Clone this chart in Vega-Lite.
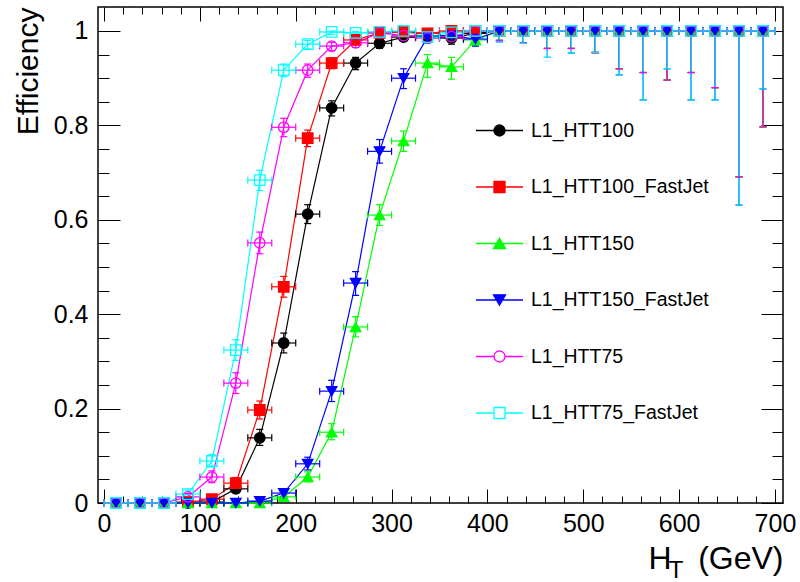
{
"$schema": "https://vega.github.io/schema/vega-lite/v6.json",
"width": 685, "height": 496,
"autosize": {"type": "none"},
"padding": {"left": 98, "top": 7, "right": 17, "bottom": 79},
"background": "white",
"config": {
 "view": {"stroke": "#000000", "strokeWidth": 1.5},
 "axis": {"grid": false, "domain": false, "tickColor": "#000000", "tickWidth": 1, "labelFont": "Liberation Sans", "labelFontSize": 25, "labelColor": "#000000", "titleFont": "Liberation Sans", "titleColor": "#000000", "titleFontWeight": "normal", "labelFlush": false, "labelOverlap": false, "labelBound": false}
},
"data": {"values": [
{"s":"L1_HTT100","x":12.5,"x0":0,"x1":25,"y":0,"lo":0,"hi":0.003},
{"s":"L1_HTT100","x":37.5,"x0":25,"x1":50,"y":0,"lo":0,"hi":0.003},
{"s":"L1_HTT100","x":62.5,"x0":50,"x1":75,"y":0,"lo":0,"hi":0.003},
{"s":"L1_HTT100","x":87.5,"x0":75,"x1":100,"y":0,"lo":0,"hi":0.003},
{"s":"L1_HTT100","x":112.5,"x0":100,"x1":125,"y":0.002,"lo":0,"hi":0.006},
{"s":"L1_HTT100","x":137.5,"x0":125,"x1":150,"y":0.03,"lo":0.022,"hi":0.04},
{"s":"L1_HTT100","x":162.5,"x0":150,"x1":175,"y":0.138,"lo":0.122,"hi":0.156},
{"s":"L1_HTT100","x":187.5,"x0":175,"x1":200,"y":0.339,"lo":0.318,"hi":0.36},
{"s":"L1_HTT100","x":212.5,"x0":200,"x1":225,"y":0.612,"lo":0.592,"hi":0.632},
{"s":"L1_HTT100","x":237.5,"x0":225,"x1":250,"y":0.837,"lo":0.82,"hi":0.852},
{"s":"L1_HTT100","x":262.5,"x0":250,"x1":275,"y":0.932,"lo":0.918,"hi":0.944},
{"s":"L1_HTT100","x":287.5,"x0":275,"x1":300,"y":0.974,"lo":0.963,"hi":0.982},
{"s":"L1_HTT100","x":312.5,"x0":300,"x1":325,"y":0.987,"lo":0.978,"hi":0.993},
{"s":"L1_HTT100","x":337.5,"x0":325,"x1":350,"y":0.989,"lo":0.98,"hi":0.995},
{"s":"L1_HTT100","x":362.5,"x0":350,"x1":375,"y":0.985,"lo":0.972,"hi":0.993},
{"s":"L1_HTT100","x":387.5,"x0":375,"x1":400,"y":0.995,"lo":0.985,"hi":0.999},
{"s":"L1_HTT100","x":412.5,"x0":400,"x1":425,"y":1,"lo":0.98,"hi":1},
{"s":"L1_HTT100","x":437.5,"x0":425,"x1":450,"y":1,"lo":0.975,"hi":1},
{"s":"L1_HTT100","x":462.5,"x0":450,"x1":475,"y":1,"lo":0.963,"hi":1},
{"s":"L1_HTT100","x":487.5,"x0":475,"x1":500,"y":1,"lo":0.963,"hi":1},
{"s":"L1_HTT100","x":512.5,"x0":500,"x1":525,"y":1,"lo":0.954,"hi":1},
{"s":"L1_HTT100","x":537.5,"x0":525,"x1":550,"y":1,"lo":0.92,"hi":1},
{"s":"L1_HTT100","x":562.5,"x0":550,"x1":575,"y":1,"lo":0.912,"hi":1},
{"s":"L1_HTT100","x":587.5,"x0":575,"x1":600,"y":1,"lo":0.896,"hi":1},
{"s":"L1_HTT100","x":612.5,"x0":600,"x1":625,"y":1,"lo":0.912,"hi":1},
{"s":"L1_HTT100","x":637.5,"x0":625,"x1":650,"y":1,"lo":0.88,"hi":1},
{"s":"L1_HTT100","x":662.5,"x0":650,"x1":675,"y":1,"lo":0.691,"hi":1},
{"s":"L1_HTT100","x":687.5,"x0":675,"x1":700,"y":1,"lo":0.797,"hi":1},
{"s":"L1_HTT100_FastJet","x":12.5,"x0":0,"x1":25,"y":0,"lo":0,"hi":0.003},
{"s":"L1_HTT100_FastJet","x":37.5,"x0":25,"x1":50,"y":0,"lo":0,"hi":0.003},
{"s":"L1_HTT100_FastJet","x":62.5,"x0":50,"x1":75,"y":0,"lo":0,"hi":0.003},
{"s":"L1_HTT100_FastJet","x":87.5,"x0":75,"x1":100,"y":0.002,"lo":0,"hi":0.006},
{"s":"L1_HTT100_FastJet","x":112.5,"x0":100,"x1":125,"y":0.008,"lo":0.004,"hi":0.014},
{"s":"L1_HTT100_FastJet","x":137.5,"x0":125,"x1":150,"y":0.042,"lo":0.032,"hi":0.054},
{"s":"L1_HTT100_FastJet","x":162.5,"x0":150,"x1":175,"y":0.197,"lo":0.178,"hi":0.216},
{"s":"L1_HTT100_FastJet","x":187.5,"x0":175,"x1":200,"y":0.458,"lo":0.436,"hi":0.48},
{"s":"L1_HTT100_FastJet","x":212.5,"x0":200,"x1":225,"y":0.773,"lo":0.755,"hi":0.79},
{"s":"L1_HTT100_FastJet","x":237.5,"x0":225,"x1":250,"y":0.932,"lo":0.92,"hi":0.943},
{"s":"L1_HTT100_FastJet","x":262.5,"x0":250,"x1":275,"y":0.981,"lo":0.973,"hi":0.987},
{"s":"L1_HTT100_FastJet","x":287.5,"x0":275,"x1":300,"y":0.996,"lo":0.99,"hi":0.999},
{"s":"L1_HTT100_FastJet","x":312.5,"x0":300,"x1":325,"y":0.998,"lo":0.993,"hi":1},
{"s":"L1_HTT100_FastJet","x":337.5,"x0":325,"x1":350,"y":0.995,"lo":0.988,"hi":0.999},
{"s":"L1_HTT100_FastJet","x":362.5,"x0":350,"x1":375,"y":1,"lo":0.992,"hi":1},
{"s":"L1_HTT100_FastJet","x":387.5,"x0":375,"x1":400,"y":1,"lo":0.99,"hi":1},
{"s":"L1_HTT100_FastJet","x":412.5,"x0":400,"x1":425,"y":1,"lo":0.98,"hi":1},
{"s":"L1_HTT100_FastJet","x":437.5,"x0":425,"x1":450,"y":1,"lo":0.975,"hi":1},
{"s":"L1_HTT100_FastJet","x":462.5,"x0":450,"x1":475,"y":1,"lo":0.963,"hi":1},
{"s":"L1_HTT100_FastJet","x":487.5,"x0":475,"x1":500,"y":1,"lo":0.963,"hi":1},
{"s":"L1_HTT100_FastJet","x":512.5,"x0":500,"x1":525,"y":1,"lo":0.954,"hi":1},
{"s":"L1_HTT100_FastJet","x":537.5,"x0":525,"x1":550,"y":1,"lo":0.92,"hi":1},
{"s":"L1_HTT100_FastJet","x":562.5,"x0":550,"x1":575,"y":1,"lo":0.912,"hi":1},
{"s":"L1_HTT100_FastJet","x":587.5,"x0":575,"x1":600,"y":1,"lo":0.896,"hi":1},
{"s":"L1_HTT100_FastJet","x":612.5,"x0":600,"x1":625,"y":1,"lo":0.912,"hi":1},
{"s":"L1_HTT100_FastJet","x":637.5,"x0":625,"x1":650,"y":1,"lo":0.88,"hi":1},
{"s":"L1_HTT100_FastJet","x":662.5,"x0":650,"x1":675,"y":1,"lo":0.691,"hi":1},
{"s":"L1_HTT100_FastJet","x":687.5,"x0":675,"x1":700,"y":1,"lo":0.797,"hi":1},
{"s":"L1_HTT150","x":12.5,"x0":0,"x1":25,"y":0,"lo":0,"hi":0.003},
{"s":"L1_HTT150","x":37.5,"x0":25,"x1":50,"y":0,"lo":0,"hi":0.003},
{"s":"L1_HTT150","x":62.5,"x0":50,"x1":75,"y":0,"lo":0,"hi":0.003},
{"s":"L1_HTT150","x":87.5,"x0":75,"x1":100,"y":0,"lo":0,"hi":0.003},
{"s":"L1_HTT150","x":112.5,"x0":100,"x1":125,"y":0,"lo":0,"hi":0.003},
{"s":"L1_HTT150","x":137.5,"x0":125,"x1":150,"y":0,"lo":0,"hi":0.003},
{"s":"L1_HTT150","x":162.5,"x0":150,"x1":175,"y":0,"lo":0,"hi":0.003},
{"s":"L1_HTT150","x":187.5,"x0":175,"x1":200,"y":0.013,"lo":0.008,"hi":0.02},
{"s":"L1_HTT150","x":212.5,"x0":200,"x1":225,"y":0.055,"lo":0.045,"hi":0.066},
{"s":"L1_HTT150","x":237.5,"x0":225,"x1":250,"y":0.15,"lo":0.134,"hi":0.168},
{"s":"L1_HTT150","x":262.5,"x0":250,"x1":275,"y":0.373,"lo":0.352,"hi":0.395},
{"s":"L1_HTT150","x":287.5,"x0":275,"x1":300,"y":0.61,"lo":0.588,"hi":0.632},
{"s":"L1_HTT150","x":312.5,"x0":300,"x1":325,"y":0.767,"lo":0.745,"hi":0.788},
{"s":"L1_HTT150","x":337.5,"x0":325,"x1":350,"y":0.932,"lo":0.902,"hi":0.95},
{"s":"L1_HTT150","x":362.5,"x0":350,"x1":375,"y":0.924,"lo":0.898,"hi":0.944},
{"s":"L1_HTT150","x":387.5,"x0":375,"x1":400,"y":0.981,"lo":0.968,"hi":0.99},
{"s":"L1_HTT150","x":412.5,"x0":400,"x1":425,"y":1,"lo":0.98,"hi":1},
{"s":"L1_HTT150","x":437.5,"x0":425,"x1":450,"y":1,"lo":0.975,"hi":1},
{"s":"L1_HTT150","x":462.5,"x0":450,"x1":475,"y":1,"lo":0.963,"hi":1},
{"s":"L1_HTT150","x":487.5,"x0":475,"x1":500,"y":1,"lo":0.963,"hi":1},
{"s":"L1_HTT150","x":512.5,"x0":500,"x1":525,"y":1,"lo":0.954,"hi":1},
{"s":"L1_HTT150","x":537.5,"x0":525,"x1":550,"y":1,"lo":0.92,"hi":1},
{"s":"L1_HTT150","x":562.5,"x0":550,"x1":575,"y":1,"lo":0.912,"hi":1},
{"s":"L1_HTT150","x":587.5,"x0":575,"x1":600,"y":1,"lo":0.896,"hi":1},
{"s":"L1_HTT150","x":612.5,"x0":600,"x1":625,"y":1,"lo":0.912,"hi":1},
{"s":"L1_HTT150","x":637.5,"x0":625,"x1":650,"y":1,"lo":0.88,"hi":1},
{"s":"L1_HTT150","x":662.5,"x0":650,"x1":675,"y":1,"lo":0.691,"hi":1},
{"s":"L1_HTT150","x":687.5,"x0":675,"x1":700,"y":1,"lo":0.797,"hi":1},
{"s":"L1_HTT150_FastJet","x":12.5,"x0":0,"x1":25,"y":0,"lo":0,"hi":0.003},
{"s":"L1_HTT150_FastJet","x":37.5,"x0":25,"x1":50,"y":0,"lo":0,"hi":0.003},
{"s":"L1_HTT150_FastJet","x":62.5,"x0":50,"x1":75,"y":0,"lo":0,"hi":0.003},
{"s":"L1_HTT150_FastJet","x":87.5,"x0":75,"x1":100,"y":0,"lo":0,"hi":0.003},
{"s":"L1_HTT150_FastJet","x":112.5,"x0":100,"x1":125,"y":0,"lo":0,"hi":0.003},
{"s":"L1_HTT150_FastJet","x":137.5,"x0":125,"x1":150,"y":0,"lo":0,"hi":0.003},
{"s":"L1_HTT150_FastJet","x":162.5,"x0":150,"x1":175,"y":0.004,"lo":0.001,"hi":0.009},
{"s":"L1_HTT150_FastJet","x":187.5,"x0":175,"x1":200,"y":0.021,"lo":0.014,"hi":0.03},
{"s":"L1_HTT150_FastJet","x":212.5,"x0":200,"x1":225,"y":0.083,"lo":0.07,"hi":0.097},
{"s":"L1_HTT150_FastJet","x":237.5,"x0":225,"x1":250,"y":0.237,"lo":0.215,"hi":0.26},
{"s":"L1_HTT150_FastJet","x":262.5,"x0":250,"x1":275,"y":0.466,"lo":0.44,"hi":0.49},
{"s":"L1_HTT150_FastJet","x":287.5,"x0":275,"x1":300,"y":0.745,"lo":0.72,"hi":0.77},
{"s":"L1_HTT150_FastJet","x":312.5,"x0":300,"x1":325,"y":0.9,"lo":0.878,"hi":0.92},
{"s":"L1_HTT150_FastJet","x":337.5,"x0":325,"x1":350,"y":0.987,"lo":0.975,"hi":0.995},
{"s":"L1_HTT150_FastJet","x":362.5,"x0":350,"x1":375,"y":0.99,"lo":0.98,"hi":0.996},
{"s":"L1_HTT150_FastJet","x":387.5,"x0":375,"x1":400,"y":0.983,"lo":0.968,"hi":0.993},
{"s":"L1_HTT150_FastJet","x":412.5,"x0":400,"x1":425,"y":1,"lo":0.977,"hi":1},
{"s":"L1_HTT150_FastJet","x":437.5,"x0":425,"x1":450,"y":1,"lo":0.975,"hi":1},
{"s":"L1_HTT150_FastJet","x":462.5,"x0":450,"x1":475,"y":1,"lo":0.944,"hi":1},
{"s":"L1_HTT150_FastJet","x":487.5,"x0":475,"x1":500,"y":1,"lo":0.953,"hi":1},
{"s":"L1_HTT150_FastJet","x":512.5,"x0":500,"x1":525,"y":1,"lo":0.955,"hi":1},
{"s":"L1_HTT150_FastJet","x":537.5,"x0":525,"x1":550,"y":1,"lo":0.907,"hi":1},
{"s":"L1_HTT150_FastJet","x":562.5,"x0":550,"x1":575,"y":1,"lo":0.854,"hi":1},
{"s":"L1_HTT150_FastJet","x":587.5,"x0":575,"x1":600,"y":1,"lo":0.92,"hi":1},
{"s":"L1_HTT150_FastJet","x":612.5,"x0":600,"x1":625,"y":1,"lo":0.854,"hi":1},
{"s":"L1_HTT150_FastJet","x":637.5,"x0":625,"x1":650,"y":1,"lo":0.854,"hi":1},
{"s":"L1_HTT150_FastJet","x":662.5,"x0":650,"x1":675,"y":1,"lo":0.631,"hi":1},
{"s":"L1_HTT150_FastJet","x":687.5,"x0":675,"x1":700,"y":1,"lo":0.877,"hi":1},
{"s":"L1_HTT75","x":12.5,"x0":0,"x1":25,"y":0,"lo":0,"hi":0.003},
{"s":"L1_HTT75","x":37.5,"x0":25,"x1":50,"y":0,"lo":0,"hi":0.003},
{"s":"L1_HTT75","x":62.5,"x0":50,"x1":75,"y":0,"lo":0,"hi":0.003},
{"s":"L1_HTT75","x":87.5,"x0":75,"x1":100,"y":0.013,"lo":0.007,"hi":0.02},
{"s":"L1_HTT75","x":112.5,"x0":100,"x1":125,"y":0.055,"lo":0.043,"hi":0.068},
{"s":"L1_HTT75","x":137.5,"x0":125,"x1":150,"y":0.254,"lo":0.232,"hi":0.276},
{"s":"L1_HTT75","x":162.5,"x0":150,"x1":175,"y":0.551,"lo":0.528,"hi":0.574},
{"s":"L1_HTT75","x":187.5,"x0":175,"x1":200,"y":0.796,"lo":0.776,"hi":0.815},
{"s":"L1_HTT75","x":212.5,"x0":200,"x1":225,"y":0.917,"lo":0.902,"hi":0.93},
{"s":"L1_HTT75","x":237.5,"x0":225,"x1":250,"y":0.968,"lo":0.958,"hi":0.976},
{"s":"L1_HTT75","x":262.5,"x0":250,"x1":275,"y":0.975,"lo":0.965,"hi":0.983},
{"s":"L1_HTT75","x":287.5,"x0":275,"x1":300,"y":0.996,"lo":0.99,"hi":0.999},
{"s":"L1_HTT75","x":312.5,"x0":300,"x1":325,"y":0.99,"lo":0.982,"hi":0.995},
{"s":"L1_HTT75","x":337.5,"x0":325,"x1":350,"y":0.985,"lo":0.975,"hi":0.992},
{"s":"L1_HTT75","x":362.5,"x0":350,"x1":375,"y":0.988,"lo":0.978,"hi":0.994},
{"s":"L1_HTT75","x":387.5,"x0":375,"x1":400,"y":1,"lo":0.99,"hi":1},
{"s":"L1_HTT75","x":412.5,"x0":400,"x1":425,"y":1,"lo":0.98,"hi":1},
{"s":"L1_HTT75","x":437.5,"x0":425,"x1":450,"y":1,"lo":0.975,"hi":1},
{"s":"L1_HTT75","x":462.5,"x0":450,"x1":475,"y":1,"lo":0.963,"hi":1},
{"s":"L1_HTT75","x":487.5,"x0":475,"x1":500,"y":1,"lo":0.963,"hi":1},
{"s":"L1_HTT75","x":512.5,"x0":500,"x1":525,"y":1,"lo":0.954,"hi":1},
{"s":"L1_HTT75","x":537.5,"x0":525,"x1":550,"y":1,"lo":0.92,"hi":1},
{"s":"L1_HTT75","x":562.5,"x0":550,"x1":575,"y":1,"lo":0.912,"hi":1},
{"s":"L1_HTT75","x":587.5,"x0":575,"x1":600,"y":1,"lo":0.896,"hi":1},
{"s":"L1_HTT75","x":612.5,"x0":600,"x1":625,"y":1,"lo":0.912,"hi":1},
{"s":"L1_HTT75","x":637.5,"x0":625,"x1":650,"y":1,"lo":0.88,"hi":1},
{"s":"L1_HTT75","x":662.5,"x0":650,"x1":675,"y":1,"lo":0.691,"hi":1},
{"s":"L1_HTT75","x":687.5,"x0":675,"x1":700,"y":1,"lo":0.797,"hi":1},
{"s":"L1_HTT75_FastJet","x":12.5,"x0":0,"x1":25,"y":0,"lo":0,"hi":0.003},
{"s":"L1_HTT75_FastJet","x":37.5,"x0":25,"x1":50,"y":0,"lo":0,"hi":0.003},
{"s":"L1_HTT75_FastJet","x":62.5,"x0":50,"x1":75,"y":0,"lo":0,"hi":0.003},
{"s":"L1_HTT75_FastJet","x":87.5,"x0":75,"x1":100,"y":0.019,"lo":0.012,"hi":0.027},
{"s":"L1_HTT75_FastJet","x":112.5,"x0":100,"x1":125,"y":0.089,"lo":0.076,"hi":0.103},
{"s":"L1_HTT75_FastJet","x":137.5,"x0":125,"x1":150,"y":0.324,"lo":0.302,"hi":0.346},
{"s":"L1_HTT75_FastJet","x":162.5,"x0":150,"x1":175,"y":0.684,"lo":0.662,"hi":0.705},
{"s":"L1_HTT75_FastJet","x":187.5,"x0":175,"x1":200,"y":0.917,"lo":0.903,"hi":0.93},
{"s":"L1_HTT75_FastJet","x":212.5,"x0":200,"x1":225,"y":0.972,"lo":0.962,"hi":0.98},
{"s":"L1_HTT75_FastJet","x":237.5,"x0":225,"x1":250,"y":0.998,"lo":0.993,"hi":1},
{"s":"L1_HTT75_FastJet","x":262.5,"x0":250,"x1":275,"y":0.996,"lo":0.99,"hi":0.999},
{"s":"L1_HTT75_FastJet","x":287.5,"x0":275,"x1":300,"y":0.998,"lo":0.993,"hi":1},
{"s":"L1_HTT75_FastJet","x":312.5,"x0":300,"x1":325,"y":1,"lo":0.994,"hi":1},
{"s":"L1_HTT75_FastJet","x":337.5,"x0":325,"x1":350,"y":0.987,"lo":0.978,"hi":0.993},
{"s":"L1_HTT75_FastJet","x":362.5,"x0":350,"x1":375,"y":0.997,"lo":0.99,"hi":1},
{"s":"L1_HTT75_FastJet","x":387.5,"x0":375,"x1":400,"y":1,"lo":0.99,"hi":1},
{"s":"L1_HTT75_FastJet","x":412.5,"x0":400,"x1":425,"y":1,"lo":0.977,"hi":1},
{"s":"L1_HTT75_FastJet","x":437.5,"x0":425,"x1":450,"y":1,"lo":0.974,"hi":1},
{"s":"L1_HTT75_FastJet","x":462.5,"x0":450,"x1":475,"y":1,"lo":0.944,"hi":1},
{"s":"L1_HTT75_FastJet","x":487.5,"x0":475,"x1":500,"y":1,"lo":0.953,"hi":1},
{"s":"L1_HTT75_FastJet","x":512.5,"x0":500,"x1":525,"y":1,"lo":0.955,"hi":1},
{"s":"L1_HTT75_FastJet","x":537.5,"x0":525,"x1":550,"y":1,"lo":0.907,"hi":1},
{"s":"L1_HTT75_FastJet","x":562.5,"x0":550,"x1":575,"y":1,"lo":0.854,"hi":1},
{"s":"L1_HTT75_FastJet","x":587.5,"x0":575,"x1":600,"y":1,"lo":0.92,"hi":1},
{"s":"L1_HTT75_FastJet","x":612.5,"x0":600,"x1":625,"y":1,"lo":0.854,"hi":1},
{"s":"L1_HTT75_FastJet","x":637.5,"x0":625,"x1":650,"y":1,"lo":0.854,"hi":1},
{"s":"L1_HTT75_FastJet","x":662.5,"x0":650,"x1":675,"y":1,"lo":0.631,"hi":1},
{"s":"L1_HTT75_FastJet","x":687.5,"x0":675,"x1":700,"y":1,"lo":0.877,"hi":1}
]},
"layer": [
 {
  "mark": {"type": "line", "strokeWidth": 1.2},
  "encoding": {
   "x": {"field": "x", "type": "quantitative", "scale": {"domain": [-6.3, 708.4], "nice": false, "zero": false},
     "axis": {"orient": "bottom", "values": [0,100,200,300,400,500,600,700], "format": "d", "tickSize": -14, "labelPadding": 22,
       "title": "H\u00a0\u00a0\u00a0(GeV)", "titleFontSize": 32, "titleX": 685, "titleY": 65, "titleAlign": "right", "titleBaseline": "alphabetic"}},
   "y": {"field": "y", "type": "quantitative", "scale": {"domain": [0, 1.0508], "nice": false, "zero": false},
     "axis": {"orient": "left", "values": [0,0.2,0.4,0.6,0.8,1], "format": "~g", "tickSize": -22, "labelPadding": 32,
       "title": "Efficiency", "titleFontSize": 30, "titleX": -61, "titleY": 0, "titleAngle": -90, "titleAlign": "right", "titleBaseline": "alphabetic"}},
   "stroke": {"field": "s", "type": "nominal",
     "scale": {"domain": ["L1_HTT100","L1_HTT100_FastJet","L1_HTT150","L1_HTT150_FastJet","L1_HTT75","L1_HTT75_FastJet"],
               "range": ["#000000","#ff0000","#00ff00","#0000ff","#ff00ff","#00ffff"]},
     "legend": {"orient": "none", "legendX": 377, "legendY": 99, "title": null, "padding": 0,
       "symbolSize": 2209, "rowPadding": 22.5, "labelOffset": 7,
       "labelFont": "Liberation Sans", "labelFontSize": 19.5, "labelColor": "#000000", "labelLimit": 400,
       "encode": {"symbols": {"update": {
         "shape": {"signal": "{'L1_HTT100':'M-1,0H1M-0.234,0A0.234,0.234,0,1,0,0.234,0A0.234,0.234,0,1,0,-0.234,0Z','L1_HTT100_FastJet':'M-1,0H1M-0.234,-0.234H0.234V0.234H-0.234Z','L1_HTT150':'M-1,0H1M0,-0.22L0.255,0.22L-0.255,0.22Z','L1_HTT150_FastJet':'M-1,0H1M0,0.22L0.255,-0.22L-0.255,-0.22Z','L1_HTT75':'M-1,0H-0.234M0.234,0H1M-0.234,0A0.234,0.234,0,1,0,0.234,0A0.234,0.234,0,1,0,-0.234,0Z','L1_HTT75_FastJet':'M-1,0H-0.234M0.234,0H1M-0.234,-0.234H0.234V0.234H-0.234Z'}[datum.value]"},
         "fill": {"signal": "{'L1_HTT100':'#000000','L1_HTT100_FastJet':'#ff0000','L1_HTT150':'#00ff00','L1_HTT150_FastJet':'#0000ff','L1_HTT75':'transparent','L1_HTT75_FastJet':'transparent'}[datum.value]"},
         "strokeWidth": {"value": 1.3},
         "opacity": {"value": 1}
       }}}}
   }
  }
 },
 {
  "mark": {"type": "rule", "strokeWidth": 1.2},
  "encoding": {
   "x": {"field": "x0", "type": "quantitative",
     "axis": {"orient": "bottom", "values": [20,40,60,80,120,140,160,180,220,240,260,280,320,340,360,380,420,440,460,480,520,540,560,580,620,640,660,680], "tickSize": -7, "labels": false,
       "title": "T", "titleFontSize": 24, "titleX": 585, "titleY": 74, "titleAlign": "right", "titleBaseline": "alphabetic"}},
   "x2": {"field": "x1"},
   "y": {"field": "y", "type": "quantitative",
     "axis": {"orient": "left", "values": [0.05,0.1,0.15,0.25,0.3,0.35,0.45,0.5,0.55,0.65,0.7,0.75,0.85,0.9,0.95], "tickSize": -11, "labels": false, "title": null}},
   "stroke": {"field": "s", "type": "nominal"}
  }
 },
 {
  "mark": {"type": "rule", "strokeWidth": 1.2},
  "encoding": {
   "x": {"field": "x", "type": "quantitative",
     "axis": {"orient": "top", "values": [0,100,200,300,400,500,600,700], "tickSize": -14, "labels": false, "title": null}},
   "y": {"field": "lo", "type": "quantitative",
     "axis": {"orient": "right", "values": [0,0.2,0.4,0.6,0.8,1], "tickSize": -22, "labels": false, "title": null}},
   "y2": {"field": "hi"},
   "stroke": {"field": "s", "type": "nominal"}
  }
 },
 {
  "mark": {"type": "tick", "orient": "horizontal", "size": 7, "thickness": 1.2, "opacity": 1},
  "encoding": {
   "x": {"field": "x", "type": "quantitative",
     "axis": {"orient": "top", "values": [20,40,60,80,120,140,160,180,220,240,260,280,320,340,360,380,420,440,460,480,520,540,560,580,620,640,660,680], "tickSize": -7, "labels": false, "title": null}},
   "y": {"field": "lo", "type": "quantitative",
     "axis": {"orient": "right", "values": [0.05,0.1,0.15,0.25,0.3,0.35,0.45,0.5,0.55,0.65,0.7,0.75,0.85,0.9,0.95], "tickSize": -11, "labels": false, "title": null}},
   "color": {"field": "s", "type": "nominal", "legend": null,
     "scale": {"range": ["#000000","#ff0000","#00ff00","#0000ff","#ff00ff","#00ffff"]}}
  }
 },
 {
  "mark": {"type": "tick", "orient": "horizontal", "size": 7, "thickness": 1.2, "opacity": 1},
  "encoding": {
   "x": {"field": "x", "type": "quantitative", "axis": null},
   "y": {"field": "hi", "type": "quantitative", "axis": null},
   "color": {"field": "s", "type": "nominal", "legend": null}
  }
 },
 {
  "mark": {"type": "tick", "orient": "vertical", "size": 7, "thickness": 1.2, "opacity": 1},
  "encoding": {
   "x": {"field": "x0", "type": "quantitative", "axis": null},
   "y": {"field": "y", "type": "quantitative", "axis": null},
   "color": {"field": "s", "type": "nominal", "legend": null}
  }
 },
 {
  "mark": {"type": "tick", "orient": "vertical", "size": 7, "thickness": 1.2, "opacity": 1},
  "encoding": {
   "x": {"field": "x1", "type": "quantitative", "axis": null},
   "y": {"field": "y", "type": "quantitative", "axis": null},
   "color": {"field": "s", "type": "nominal", "legend": null}
  }
 },
 {
  "mark": {"type": "point", "filled": true, "size": 110, "strokeWidth": 1.3, "opacity": 1},
  "encoding": {
   "x": {"field": "x", "type": "quantitative", "axis": null},
   "y": {"field": "y", "type": "quantitative", "axis": null},
   "stroke": {"field": "s", "type": "nominal"},
   "fill": {"field": "s", "type": "nominal", "legend": null,
     "scale": {"range": ["#000000","#ff0000","#00ff00","#0000ff","transparent","transparent"]}},
   "shape": {"field": "s", "type": "nominal", "legend": null,
     "scale": {"range": ["circle","square","triangle-up","triangle-down","circle","square"]}}
  }
 }
],
"resolve": {"axis": {"x": "independent", "y": "independent"}}
}
